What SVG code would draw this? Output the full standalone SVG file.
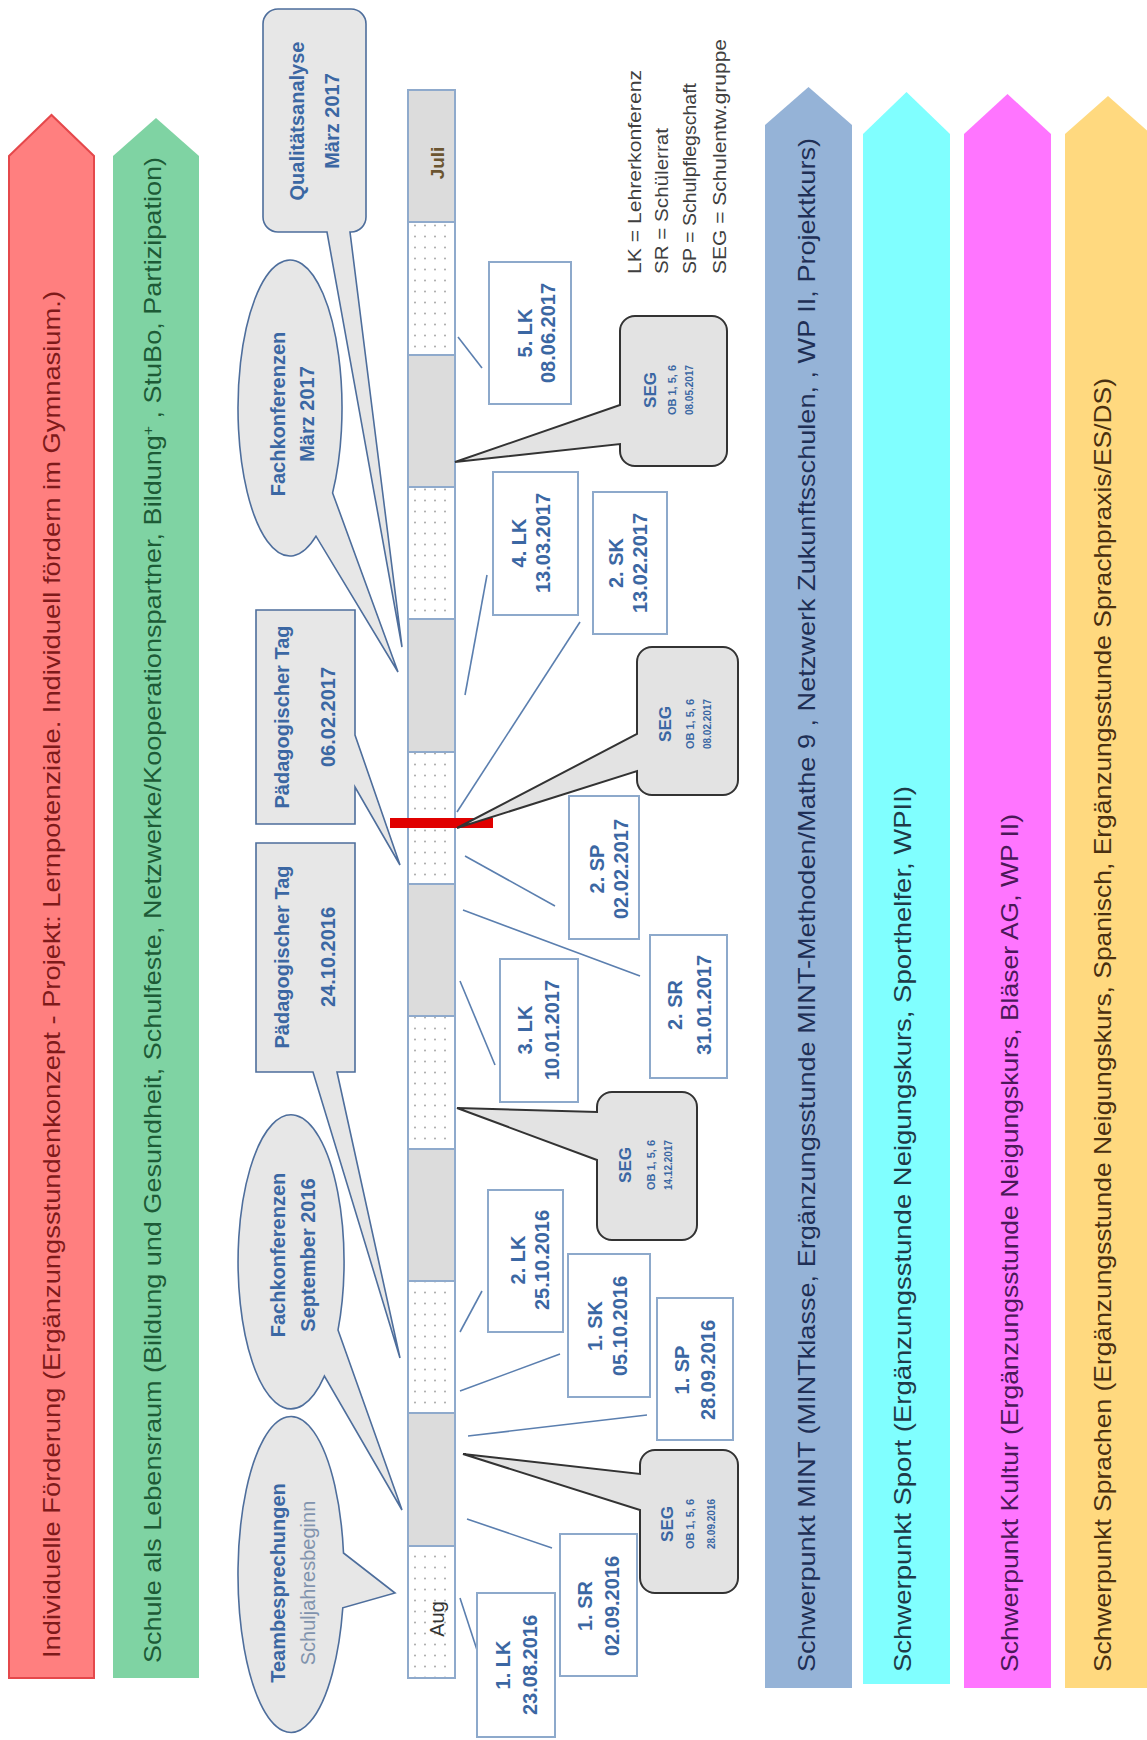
<svg xmlns="http://www.w3.org/2000/svg" width="1147" height="1740" viewBox="0 0 1147 1740">
<defs>
<pattern id="dots" width="10" height="11" patternUnits="userSpaceOnUse"><rect width="10" height="11" fill="#ffffff"/><circle cx="5" cy="5.5" r="1" fill="#a8a8a8"/></pattern>
<style>
text{font-family:"Liberation Sans",Arial,sans-serif}
.band{font-size:24px}
.bub{fill:#e7e7e7;stroke:#4e6e9c;stroke-width:1.6}
.bt{font-size:20px;font-weight:bold;fill:#3b67a3;text-anchor:middle}
.box{fill:#ffffff;stroke:#8da9cb;stroke-width:2}
.lb{font-size:20px;font-weight:bold;fill:#3b67a3;text-anchor:middle}
.seg{fill:#e3e3e3;stroke:#333333;stroke-width:2}
.s1{font-size:17px;font-weight:bold;fill:#3b67a3;text-anchor:middle}
.s2{font-size:11px;font-weight:bold;fill:#3b67a3;text-anchor:middle}
.s3{font-size:10px;font-weight:bold;fill:#3b67a3;text-anchor:middle}
.gray{fill:#dcdcdc;stroke:#8faacc;stroke-width:2}
.dot{fill:url(#dots);stroke:#8faacc;stroke-width:2}
.con{stroke:#5b7faf;stroke-width:1.6;fill:none}
.leg{font-size:18px;fill:#404040}
</style>
</defs>
<rect width="1147" height="1740" fill="#ffffff"/>

<g id="arrow-foerderung">
<path d="M9,156 L51.5,115 L94,156 V1678 H9 Z" fill="#ff7f7f" stroke="#e5484b" stroke-width="2"/>
<text class="band" transform="translate(60,1658) rotate(-90)" textLength="1367" lengthAdjust="spacingAndGlyphs" fill="#7e1a1a">Individuelle Förderung (Ergänzungsstundenkonzept - Projekt: Lernpotenziale. Individuell fördern im Gymnasium.)</text>
</g>
<g id="arrow-lebensraum">
<path d="M113,156 L156,118 L199,156 V1678 H113 Z" fill="#7fd3a3"/>
<text class="band" transform="translate(161,1663) rotate(-90)" textLength="1506" lengthAdjust="spacingAndGlyphs" fill="#1d5a36">Schule als Lebensraum (Bildung und Gesundheit, Schulfeste, Netzwerke/Kooperationspartner, Bildung<tspan baseline-shift="super" font-size="14">+</tspan> , StuBo, Partizipation)</text>
</g>
<g id="arrow-mint">
<path d="M765,125 L808.5,87 L852,125 V1688 H765 Z" fill="#95b3d7"/>
<text class="band" transform="translate(815,1672) rotate(-90)" textLength="1534" lengthAdjust="spacingAndGlyphs" fill="#1f2f55">Schwerpunkt MINT (MINTklasse, Ergänzungsstunde MINT-Methoden/Mathe 9 , Netzwerk Zukunftsschulen, , WP II, Projektkurs)</text>
</g>
<g id="arrow-sport">
<path d="M863,134 L906.5,92 L950,134 V1684 H863 Z" fill="#80ffff"/>
<text class="band" transform="translate(911,1672) rotate(-90)" textLength="886" lengthAdjust="spacingAndGlyphs" fill="#1e3a48">Schwerpunkt Sport (Ergänzungsstunde Neigungskurs, Sporthelfer, WPII)</text>
</g>
<g id="arrow-kultur">
<path d="M964,134 L1007.5,94 L1051,134 V1688 H964 Z" fill="#ff75ff"/>
<text class="band" transform="translate(1018,1672) rotate(-90)" textLength="858" lengthAdjust="spacingAndGlyphs" fill="#4a1858">Schwerpunkt Kultur (Ergänzungsstunde Neigungskurs, Bläser AG, WP II)</text>
</g>
<g id="arrow-sprachen">
<path d="M1065,134 L1108,96 L1151,134 V1688 H1065 Z" fill="#ffd97f"/>
<text class="band" transform="translate(1111,1672) rotate(-90)" textLength="1294" lengthAdjust="spacingAndGlyphs" fill="#4a3010">Schwerpunkt Sprachen (Ergänzungsstunde Neigungskurs, Spanisch, Ergänzungsstunde Sprachpraxis/ES/DS)</text>
</g>

<g id="timeline">
<rect class="gray" x="408" y="90" width="47" height="132"/>
<rect class="dot" x="408" y="222" width="47" height="133"/>
<rect class="gray" x="408" y="355" width="47" height="132"/>
<rect class="dot" x="408" y="487" width="47" height="132"/>
<rect class="gray" x="408" y="619" width="47" height="133"/>
<rect class="dot" x="408" y="752" width="47" height="132"/>
<rect class="gray" x="408" y="884" width="47" height="132"/>
<rect class="dot" x="408" y="1016" width="47" height="133"/>
<rect class="gray" x="408" y="1149" width="47" height="132"/>
<rect class="dot" x="408" y="1281" width="47" height="132"/>
<rect class="gray" x="408" y="1413" width="47" height="133"/>
<rect class="dot" x="408" y="1546" width="47" height="132"/>
<text transform="translate(444,163) rotate(-90)" font-size="19" font-weight="bold" fill="#6b5530" text-anchor="middle">Juli</text>
<text transform="translate(444,1619) rotate(-90)" font-size="20" fill="#333333" text-anchor="middle">Aug</text>
<rect x="390" y="818" width="103" height="10" fill="#e00000"/>
</g>

<g id="legend">
<text class="leg" transform="translate(641,274) rotate(-90)" textLength="204" lengthAdjust="spacingAndGlyphs">LK = Lehrerkonferenz</text>
<text class="leg" transform="translate(668,274) rotate(-90)" textLength="146" lengthAdjust="spacingAndGlyphs">SR = Schülerrat</text>
<text class="leg" transform="translate(696,274) rotate(-90)" textLength="191" lengthAdjust="spacingAndGlyphs">SP = Schulpflegschaft</text>
<text class="leg" transform="translate(726,274) rotate(-90)" textLength="235" lengthAdjust="spacingAndGlyphs">SEG = Schulentw.gruppe</text>
</g>

<g id="qualitaetsanalyse">
<path class="bub" d="M278,9 H351 A15,15 0 0 1 366,24 V217 A15,15 0 0 1 351,232 H350 L402,647 L327,232 H278 A15,15 0 0 1 263,217 V24 A15,15 0 0 1 278,9 Z"/>
<text class="bt" transform="translate(304,121) rotate(-90)">Qualitätsanalyse</text>
<text class="bt" transform="translate(339,121) rotate(-90)">März 2017</text>
</g>
<g id="fachkonferenzen-maerz">
<path class="bub" d="M332.6,492.9 L398,672 L316,536.2 A52,148 0 1 1 332.6,492.9 Z"/>
<text class="bt" transform="translate(285,414) rotate(-90)">Fachkonferenzen</text>
<text class="bt" transform="translate(314,414) rotate(-90)">März 2017</text>
</g>
<g id="paed-tag-2017">
<path class="bub" d="M256,610 H355 V735 L400,865 L355,787 V824 H256 Z"/>
<text class="bt" transform="translate(289,717) rotate(-90)">Pädagogischer Tag</text>
<text class="bt" transform="translate(335,717) rotate(-90)">06.02.2017</text>
</g>
<g id="paed-tag-2016">
<path class="bub" d="M256,843 H355 V1072 H337 L400,1358 L313,1072 H256 Z"/>
<text class="bt" transform="translate(289,957) rotate(-90)">Pädagogischer Tag</text>
<text class="bt" transform="translate(335,957) rotate(-90)">24.10.2016</text>
</g>
<g id="fachkonferenzen-sept">
<path class="bub" d="M338,1330.1 L402,1510 L324.4,1376.1 A53,147 0 1 1 338,1330.1 Z"/>
<text class="bt" transform="translate(285,1255) rotate(-90)">Fachkonferenzen</text>
<text class="bt" transform="translate(315,1255) rotate(-90)">September 2016</text>
</g>
<g id="teambesprechungen">
<path class="bub" d="M343.5,1553 L395,1593 L342.8,1607.8 A53,158 0 1 1 343.5,1553 Z"/>
<text class="bt" transform="translate(285,1583) rotate(-90)">Teambesprechungen</text>
<text transform="translate(315,1583) rotate(-90)" font-size="20" fill="#8193ad" text-anchor="middle">Schuljahresbeginn</text>
</g>

<g id="connectors">
<line class="con" x1="458" y1="337" x2="482" y2="368"/>
<line class="con" x1="487" y1="575" x2="465" y2="695"/>
<line class="con" x1="580" y1="622" x2="457" y2="812"/>
<line class="con" x1="465" y1="856" x2="555" y2="906"/>
<line class="con" x1="463" y1="910" x2="640" y2="976"/>
<line class="con" x1="460" y1="981" x2="495" y2="1065"/>
<line class="con" x1="482" y1="1291" x2="460" y2="1332"/>
<line class="con" x1="560" y1="1354" x2="460" y2="1391"/>
<line class="con" x1="647" y1="1415" x2="468" y2="1436"/>
<line class="con" x1="467" y1="1519" x2="552" y2="1548"/>
<line class="con" x1="460" y1="1598" x2="477" y2="1650"/>
</g>

<g id="lk5">
<rect class="box" x="489" y="262" width="82" height="142"/>
<text class="lb" transform="translate(532,333) rotate(-90)">5. LK</text>
<text class="lb" transform="translate(555,333) rotate(-90)">08.06.2017</text>
</g>
<g id="seg-0805">
<path class="seg" d="M635,316 H712 A15,15 0 0 1 727,331 V451 A15,15 0 0 1 712,466 H635 A15,15 0 0 1 620,451 V444 L455,462 L620,405 V331 A15,15 0 0 1 635,316 Z"/>
<text class="s1" transform="translate(656,390) rotate(-90)">SEG</text>
<text class="s2" transform="translate(676,390) rotate(-90)">OB 1, 5, 6</text>
<text class="s3" transform="translate(693,390) rotate(-90)">08.05.2017</text>
</g>
<g id="lk4">
<rect class="box" x="493" y="472" width="85" height="143"/>
<text class="lb" transform="translate(526,543) rotate(-90)">4. LK</text>
<text class="lb" transform="translate(550,543) rotate(-90)">13.03.2017</text>
</g>
<g id="sk2">
<rect class="box" x="593" y="492" width="74" height="142"/>
<text class="lb" transform="translate(623,563) rotate(-90)">2. SK</text>
<text class="lb" transform="translate(647,563) rotate(-90)">13.02.2017</text>
</g>
<g id="seg-0802">
<path class="seg" d="M652,647 H723 A15,15 0 0 1 738,662 V780 A15,15 0 0 1 723,795 H652 A15,15 0 0 1 637,780 V771 L457,828 L637,734 V662 A15,15 0 0 1 652,647 Z"/>
<text class="s1" transform="translate(671,724) rotate(-90)">SEG</text>
<text class="s2" transform="translate(694,724) rotate(-90)">OB 1, 5, 6</text>
<text class="s3" transform="translate(711,724) rotate(-90)">08.02.2017</text>
</g>
<g id="sp2">
<rect class="box" x="569" y="796" width="70" height="143"/>
<text class="lb" transform="translate(604,869) rotate(-90)">2. SP</text>
<text class="lb" transform="translate(628,869) rotate(-90)">02.02.2017</text>
</g>
<g id="sr2">
<rect class="box" x="650" y="935" width="77" height="143"/>
<text class="lb" transform="translate(682,1005) rotate(-90)">2. SR</text>
<text class="lb" transform="translate(711,1005) rotate(-90)">31.01.2017</text>
</g>
<g id="lk3">
<rect class="box" x="500" y="959" width="78" height="143"/>
<text class="lb" transform="translate(532,1030) rotate(-90)">3. LK</text>
<text class="lb" transform="translate(559,1030) rotate(-90)">10.01.2017</text>
</g>
<g id="seg-1412">
<path class="seg" d="M612,1092 H682 A15,15 0 0 1 697,1107 V1225 A15,15 0 0 1 682,1240 H612 A15,15 0 0 1 597,1225 V1160 L457,1108 L597,1112 V1107 A15,15 0 0 1 612,1092 Z"/>
<text class="s1" transform="translate(631,1165) rotate(-90)">SEG</text>
<text class="s2" transform="translate(655,1165) rotate(-90)">OB 1, 5, 6</text>
<text class="s3" transform="translate(672,1165) rotate(-90)">14.12.2017</text>
</g>
<g id="lk2">
<rect class="box" x="488" y="1190" width="75" height="142"/>
<text class="lb" transform="translate(525,1260) rotate(-90)">2. LK</text>
<text class="lb" transform="translate(549,1260) rotate(-90)">25.10.2016</text>
</g>
<g id="sk1">
<rect class="box" x="568" y="1254" width="82" height="143"/>
<text class="lb" transform="translate(602,1326) rotate(-90)">1. SK</text>
<text class="lb" transform="translate(627,1326) rotate(-90)">05.10.2016</text>
</g>
<g id="sp1">
<rect class="box" x="657" y="1298" width="76" height="142"/>
<text class="lb" transform="translate(689,1370) rotate(-90)">1. SP</text>
<text class="lb" transform="translate(715,1370) rotate(-90)">28.09.2016</text>
</g>
<g id="seg-2809">
<path class="seg" d="M655,1450 H723 A15,15 0 0 1 738,1465 V1578 A15,15 0 0 1 723,1593 H655 A15,15 0 0 1 640,1578 V1510 L463,1454 L640,1474 V1465 A15,15 0 0 1 655,1450 Z"/>
<text class="s1" transform="translate(673,1524) rotate(-90)">SEG</text>
<text class="s2" transform="translate(694,1524) rotate(-90)">OB 1, 5, 6</text>
<text class="s3" transform="translate(715,1524) rotate(-90)">28.09.2016</text>
</g>
<g id="sr1">
<rect class="box" x="560" y="1534" width="77" height="142"/>
<text class="lb" transform="translate(592,1606) rotate(-90)">1. SR</text>
<text class="lb" transform="translate(619,1606) rotate(-90)">02.09.2016</text>
</g>
<g id="lk1">
<rect class="box" x="477" y="1593" width="78" height="144"/>
<text class="lb" transform="translate(510,1665) rotate(-90)">1. LK</text>
<text class="lb" transform="translate(537,1665) rotate(-90)">23.08.2016</text>
</g>
</svg>
